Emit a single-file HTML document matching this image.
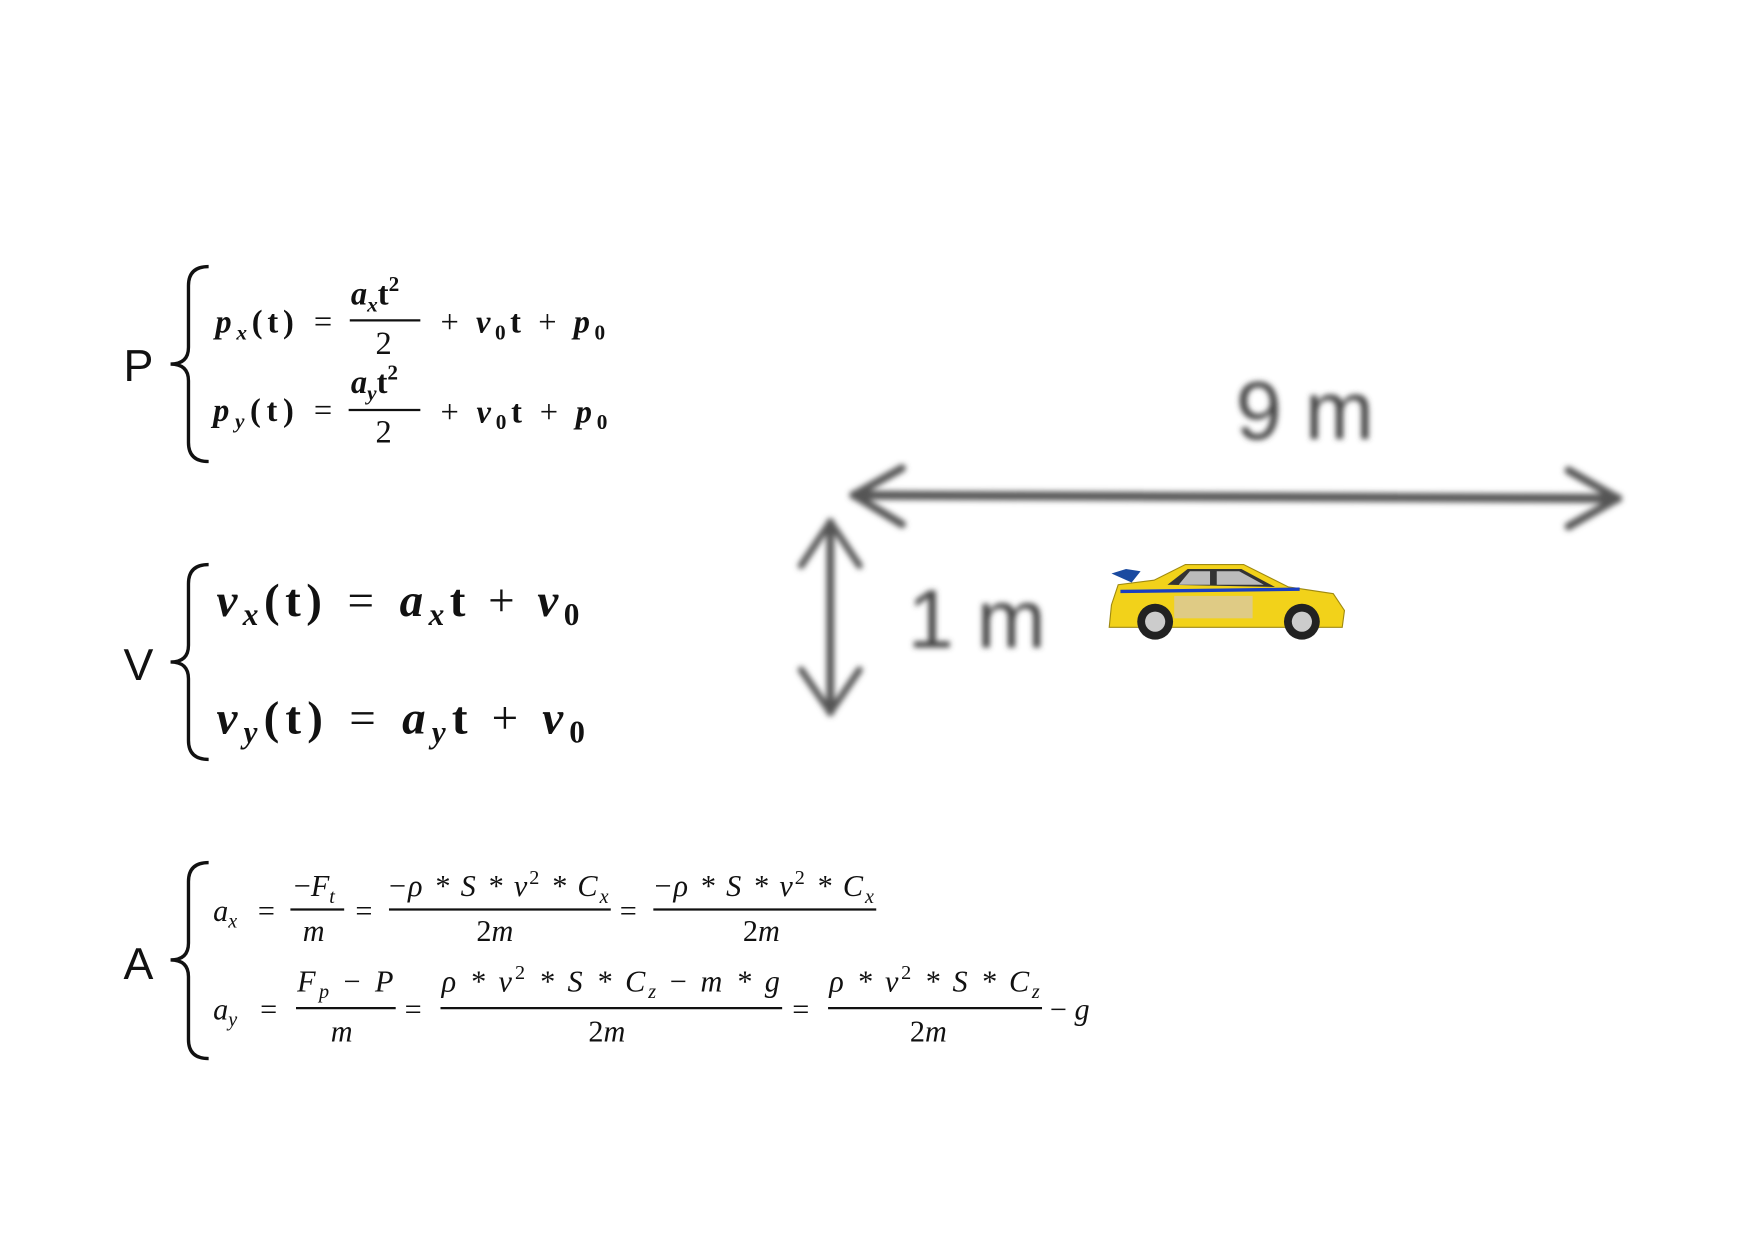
<!DOCTYPE html>
<html><head><meta charset="utf-8"><style>html,body{margin:0;padding:0;background:#fff}svg{display:block}</style></head>
<body>
<svg width="1748" height="1240" viewBox="0 0 1560 1107" xmlns="http://www.w3.org/2000/svg">
<defs><filter id="bl" x="-10%" y="-30%" width="120%" height="160%"><feGaussianBlur stdDeviation="2.5"/></filter></defs>
<rect width="1560" height="1107" fill="#fff"/>
<g font-family="'Liberation Serif', serif" fill="#111">
 <!-- P block -->
 <text x="110" y="340" font-family="'Liberation Sans', sans-serif" font-size="40">P</text>
 <path d="M186 238 Q168 238 168 255 L168 310 Q168 325 152 325 Q168 325 168 340 L168 395 Q168 412 186 412" fill="none" stroke="#111" stroke-width="3"/>
 <g font-weight="bold" font-size="29">
  <text x="192" y="297" textLength="70"><tspan font-style="italic">p</tspan><tspan font-style="italic" font-size="19" dy="6">x</tspan><tspan dy="-6">(t)</tspan></text>
  <text x="280" y="297" font-weight="normal">=</text>
  <text x="313" y="272"><tspan font-style="italic">a</tspan><tspan font-style="italic" font-size="19" dy="6">x</tspan><tspan dy="-6">t</tspan><tspan font-size="19" dy="-12">2</tspan></text>
  <line x1="312" y1="286" x2="375" y2="286" stroke="#111" stroke-width="2"/>
  <text x="335" y="316" font-weight="normal">2</text>
  <text x="393" y="297" textLength="147"><tspan font-weight="normal">+ </tspan><tspan font-style="italic">v</tspan><tspan font-size="19" dy="6">0</tspan><tspan dy="-6">t </tspan><tspan font-weight="normal">+ </tspan><tspan font-style="italic">p</tspan><tspan font-size="19" dy="6">0</tspan></text>
 </g>
 <g font-weight="bold" font-size="29">
  <text x="190" y="376" textLength="72"><tspan font-style="italic">p</tspan><tspan font-style="italic" font-size="19" dy="6">y</tspan><tspan dy="-6">(t)</tspan></text>
  <text x="280" y="376" font-weight="normal">=</text>
  <text x="313" y="351"><tspan font-style="italic">a</tspan><tspan font-style="italic" font-size="19" dy="6">y</tspan><tspan dy="-6">t</tspan><tspan font-size="19" dy="-12">2</tspan></text>
  <line x1="311" y1="366" x2="375" y2="366" stroke="#111" stroke-width="2"/>
  <text x="335" y="395" font-weight="normal">2</text>
  <text x="393" y="377" textLength="149"><tspan font-weight="normal">+ </tspan><tspan font-style="italic">v</tspan><tspan font-size="19" dy="6">0</tspan><tspan dy="-6">t </tspan><tspan font-weight="normal">+ </tspan><tspan font-style="italic">p</tspan><tspan font-size="19" dy="6">0</tspan></text>
 </g>
 <!-- V block -->
 <text x="110" y="607" font-family="'Liberation Sans', sans-serif" font-size="40">V</text>
 <path d="M186 504 Q168 504 168 521 L168 576 Q168 591 152 591 Q168 591 168 606 L168 661 Q168 678 186 678" fill="none" stroke="#111" stroke-width="3"/>
 <text x="193" y="550" textLength="324" font-weight="bold" font-size="42"><tspan font-style="italic">v</tspan><tspan font-style="italic" font-size="28" dy="8">x</tspan><tspan dy="-8">(t)</tspan><tspan font-weight="normal" dx="18">=</tspan><tspan dx="18" font-style="italic">a</tspan><tspan font-style="italic" font-size="28" dy="8">x</tspan><tspan dy="-8">t</tspan><tspan font-weight="normal"> + </tspan><tspan font-style="italic">v</tspan><tspan font-size="28" dy="8">0</tspan></text>
 <text x="193" y="655" textLength="329" font-weight="bold" font-size="42"><tspan font-style="italic">v</tspan><tspan font-style="italic" font-size="28" dy="8">y</tspan><tspan dy="-8">(t)</tspan><tspan font-weight="normal" dx="18">=</tspan><tspan dx="18" font-style="italic">a</tspan><tspan font-style="italic" font-size="28" dy="8">y</tspan><tspan dy="-8">t</tspan><tspan font-weight="normal"> + </tspan><tspan font-style="italic">v</tspan><tspan font-size="28" dy="8">0</tspan></text>
 <!-- A block -->
 <text x="110" y="874" font-family="'Liberation Sans', sans-serif" font-size="40">A</text>
 <path d="M186 770 Q168 770 168 787 L168 842 Q168 857 152 857 Q168 857 168 872 L168 928 Q168 945 186 945" fill="none" stroke="#111" stroke-width="3"/>
 <g font-size="27" font-style="italic">
  <text x="190" y="822">a<tspan font-size="18" dy="6">x</tspan></text>
  <text x="230" y="822" font-style="normal">=</text>
  <text x="262" y="800"><tspan font-style="normal">−</tspan>F<tspan font-size="18" dy="6">t</tspan></text>
  <line x1="259" y1="812" x2="307" y2="812" stroke="#111" stroke-width="2"/>
  <text x="270" y="840">m</text>
  <text x="317" y="822" font-style="normal">=</text>
  <text x="347" y="800" textLength="196"><tspan font-style="normal">−</tspan>ρ * S * v<tspan font-size="18" dy="-11" font-style="normal">2</tspan><tspan dy="11"> * C</tspan><tspan font-size="18" dy="6">x</tspan></text>
  <line x1="347" y1="812" x2="545" y2="812" stroke="#111" stroke-width="2"/>
  <text x="425" y="840"><tspan font-style="normal">2</tspan>m</text>
  <text x="553" y="822" font-style="normal">=</text>
  <text x="584" y="800" textLength="196"><tspan font-style="normal">−</tspan>ρ * S * v<tspan font-size="18" dy="-11" font-style="normal">2</tspan><tspan dy="11"> * C</tspan><tspan font-size="18" dy="6">x</tspan></text>
  <line x1="583" y1="812" x2="782" y2="812" stroke="#111" stroke-width="2"/>
  <text x="663" y="840"><tspan font-style="normal">2</tspan>m</text>
 </g>
 <g font-size="27" font-style="italic">
  <text x="190" y="910">a<tspan font-size="18" dy="6">y</tspan></text>
  <text x="232" y="910" font-style="normal">=</text>
  <text x="265" y="885" textLength="86">F<tspan font-size="18" dy="6">p</tspan><tspan dy="-6" font-style="normal"> − </tspan>P</text>
  <line x1="264" y1="900" x2="353" y2="900" stroke="#111" stroke-width="2"/>
  <text x="295" y="930">m</text>
  <text x="361" y="910" font-style="normal">=</text>
  <text x="394" y="885" textLength="302">ρ * v<tspan font-size="18" dy="-11" font-style="normal">2</tspan><tspan dy="11"> * S * C</tspan><tspan font-size="18" dy="6">z</tspan><tspan dy="-6" font-style="normal"> − </tspan>m * g</text>
  <line x1="393" y1="900" x2="698" y2="900" stroke="#111" stroke-width="2"/>
  <text x="525" y="930"><tspan font-style="normal">2</tspan>m</text>
  <text x="707" y="910" font-style="normal">=</text>
  <text x="740" y="885" textLength="188">ρ * v<tspan font-size="18" dy="-11" font-style="normal">2</tspan><tspan dy="11"> * S * C</tspan><tspan font-size="18" dy="6">z</tspan></text>
  <line x1="739" y1="900" x2="930" y2="900" stroke="#111" stroke-width="2"/>
  <text x="812" y="930"><tspan font-style="normal">2</tspan>m</text>
  <text x="937" y="910"><tspan font-style="normal">− </tspan>g</text>
 </g>
</g>
<!-- blurred dimension arrows -->
<g filter="url(#bl)" stroke="#555" fill="none" stroke-linecap="round" stroke-linejoin="round">
 <g>
  <line x1="762" y1="442" x2="1444" y2="445" stroke-width="8"/>
  <polyline points="805,418 762,442 805,468" stroke-width="7"/>
  <polyline points="1400,420 1444,445 1400,470" stroke-width="7"/>
 </g>
 <g>
  <line x1="741" y1="466" x2="741" y2="636" stroke-width="7"/>
  <polyline points="715,505 741,466 767,505" stroke-width="6"/>
  <polyline points="715,598 741,636 767,598" stroke-width="6"/>
 </g>
 <text x="1103" y="392" font-family="'Liberation Sans', sans-serif" font-size="74" fill="#444" stroke="none">9 m</text>
 <text x="810" y="578" font-family="'Liberation Sans', sans-serif" font-size="74" fill="#444" stroke="none">1 m</text>
</g>
<!-- car -->
<g>
 <path d="M992 540 L998 522 L1030 518 L1058 504 L1110 504 L1150 524 L1190 530 L1200 545 L1198 560 L990 560 Z" fill="#f2d21a" stroke="#a08a10" stroke-width="1"/>
 <path d="M1042 522 L1060 508 L1108 508 L1138 524 Z" fill="#333"/>
 <path d="M1062 510 L1080 510 L1080 522 L1052 522 Z" fill="#bbb"/>
 <path d="M1086 510 L1106 510 L1128 522 L1086 522 Z" fill="#bbb"/>
 <line x1="1000" y1="528" x2="1160" y2="526" stroke="#1a3fc0" stroke-width="3"/>
 <rect x="1048" y="532" width="70" height="20" fill="#d9c9a0" opacity="0.8"/>
 <path d="M992 512 L1005 508 L1018 510 L1010 520 Z" fill="#1a4aa0"/>
 <circle cx="1031" cy="555" r="16" fill="#222"/><circle cx="1031" cy="555" r="9" fill="#ccc"/>
 <circle cx="1162" cy="555" r="16" fill="#222"/><circle cx="1162" cy="555" r="9" fill="#ccc"/>
</g>
</svg>
</body></html>
